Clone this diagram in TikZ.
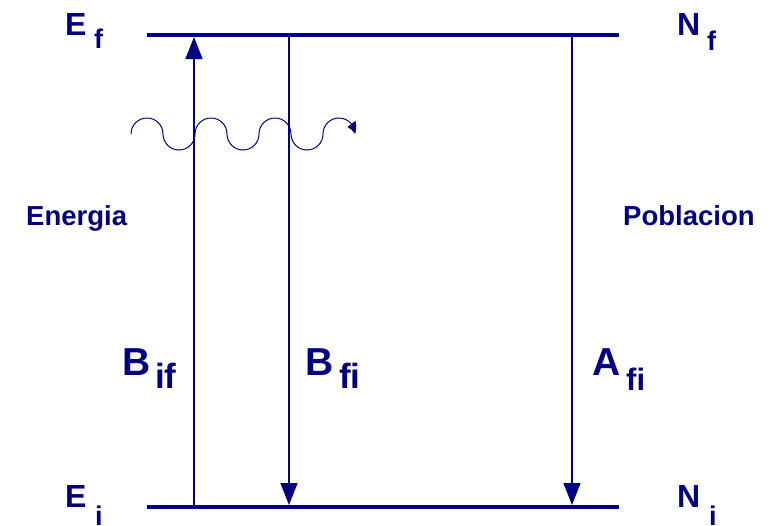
\documentclass[tikz,border=0pt]{standalone}
\usepackage{fontspec}
\setmainfont{Liberation Sans}
\usetikzlibrary{arrows.meta,bending}
\definecolor{navy}{RGB}{0,0,128}
\begin{document}
\begin{tikzpicture}[x=1pt,y=-1pt,
  level/.style={navy,line width=4.5pt},
  trans/.style={navy,line width=1.6pt,-{Triangle[length=22pt,width=17pt]}},
  big/.style={navy,inner sep=0pt,anchor=base west,font=\fontsize{32}{32}\selectfont\bfseries},
  mid/.style={navy,inner sep=0pt,anchor=base west,font=\fontsize{39}{39}\selectfont\bfseries},
  sub/.style={navy,inner sep=0pt,anchor=base west,font=\fontsize{27}{27}\selectfont\bfseries},
  subb/.style={navy,inner sep=0pt,anchor=base west,font=\fontsize{35}{35}\selectfont\bfseries},
  suba/.style={navy,inner sep=0pt,anchor=base west,font=\fontsize{31}{31}\selectfont\bfseries},
  lab/.style={navy,inner sep=0pt,anchor=base west,font=\fontsize{27.5}{27.5}\selectfont\bfseries}]
\useasboundingbox (0,0) rectangle (776,525);
% levels
\coordinate (tl) at (147,35);
\coordinate (tr) at (619,35);
\coordinate (bl) at (147,507);
\coordinate (br) at (619,507);
\draw[level] (tl) -- (tr);
\draw[level] (bl) -- (br);
% transitions
\coordinate (a1) at (194,507);
\coordinate (a2) at (194,37);
\coordinate (b1) at (289,37);
\coordinate (b2) at (289,505);
\coordinate (c1) at (572,37);
\coordinate (c2) at (572,505);
\draw[trans] (a1) -- (a2);
\draw[trans] (b1) -- (b2);
\draw[trans] (c1) -- (c2);
% photon wave
\coordinate (w0) at (131,134);
\draw[navy,line width=1pt,-{Triangle[length=11pt,width=10pt,bend]}] (w0)
  arc[start angle=180,end angle=360,radius=16]
  arc[start angle=180,end angle=0,radius=16]
  arc[start angle=180,end angle=360,radius=16]
  arc[start angle=180,end angle=0,radius=16]
  arc[start angle=180,end angle=360,radius=16]
  arc[start angle=180,end angle=0,radius=16]
  arc[start angle=180,end angle=360,radius=16];
% labels
\node[big] (Ef) at (65,35) {E};
\node[sub] (Efs) at (94,48) {f};
\node[big] (Ei) at (65,507) {E};
\node[sub] (Eis) at (95,525) {i};
\node[big] (Nf) at (677,35) {N};
\node[sub] (Nfs) at (707,50) {f};
\node[big] (Ni) at (677,507) {N};
\node[sub] (Nis) at (709,525) {i};
\node[lab] (en) at (26,225) {Energia};
\node[lab] (po) at (623,225) {Poblacion};
\node[mid] (B1) at (122,375) {B};
\node[subb] (B1s) at (155,388) {if};
\node[mid] (B2) at (305,375) {B};
\node[subb] (B2s) at (339,388) {fi};
\node[mid] (A1) at (592,375) {A};
\node[suba] (A1s) at (626,390) {fi};
\end{tikzpicture}
\end{document}
